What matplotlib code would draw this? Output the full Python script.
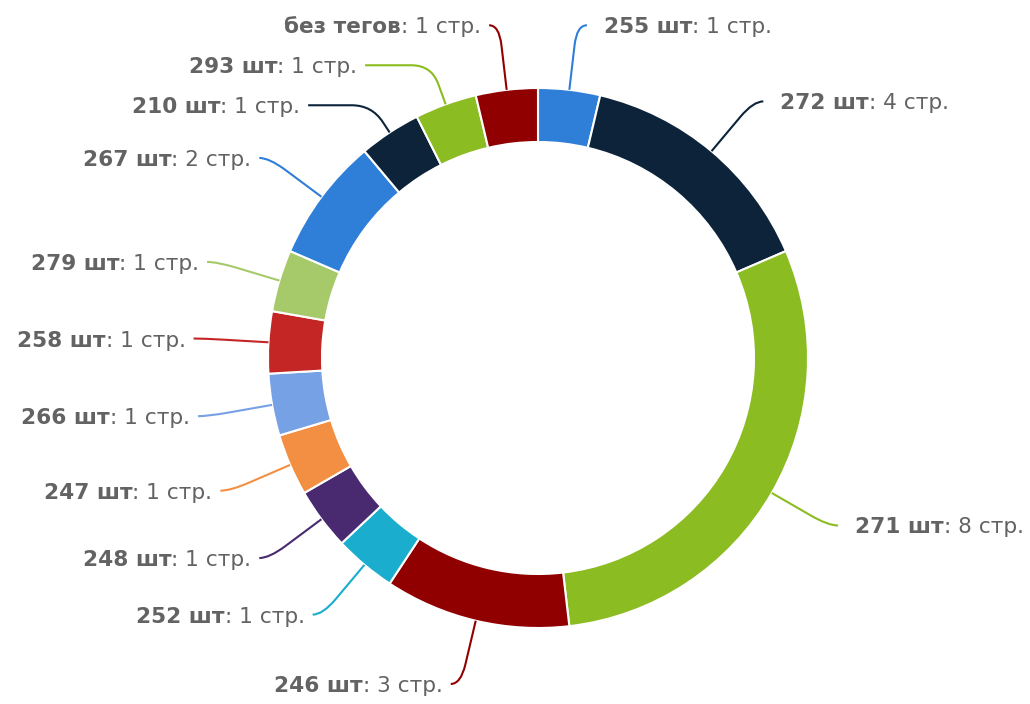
import numpy as np
import matplotlib
import matplotlib.pyplot as plt
from matplotlib.path import Path
from matplotlib.patches import PathPatch

matplotlib.use("Agg")

# values, clockwise from 12 o'clock
tegi = ["255 шт", "272 шт", "271 шт", "246 шт", "252 шт", "248 шт", "247 шт",
        "266 шт", "258 шт", "279 шт", "267 шт", "210 шт", "293 шт", "без тегов"]
stranic = [1, 4, 8, 3, 1, 1, 1, 1, 1, 1, 2, 1, 1, 1]
cveta = ["#2f7ed8", "#0d233a", "#8bbc21", "#910000", "#1aadce", "#492970",
         "#f28f43", "#77a1e5", "#c42525", "#a6c96a", "#2f7ed8", "#0d233a",
         "#8bbc21", "#910000"]

W, H = 1030, 704
CX, CY = 538, 346
R = 270
TOLSHINA = 54
R_METKI = 335
SHAG = 40
UGOLOK = 20
CVET_TEKSTA = "#636363"
RAZMER = 15.6

fig = plt.figure(figsize=(W / 100, H / 100), dpi=100)
ax = fig.add_axes([0, 0, 1, 1])
ax.pie(
    stranic,
    radius=R,
    center=(CX, CY),
    startangle=90,
    counterclock=False,
    colors=cveta,
    wedgeprops=dict(width=TOLSHINA, edgecolor="white", linewidth=1.5),
)
ax.set_xlim(0, W)
ax.set_ylim(0, H)
ax.set_aspect("equal")
ax.axis("off")

vals = np.array(stranic, dtype=float)
ugol = (np.cumsum(vals) - vals / 2) / vals.sum() * 2 * np.pi
sn, cs = np.sin(ugol), np.cos(ugol)
ly = CY + R_METKI * cs

# раздвигаем подписи, чтобы не налезали
for storona in (np.where(sn < 0)[0], np.where(sn >= 0)[0]):
    poryadok = sorted(storona, key=lambda i: -ly[i])
    for a, b in zip(poryadok, poryadok[1:]):
        if ly[b] > ly[a] - SHAG:
            ly[b] = ly[a] - SHAG


def k_tochke(ot, do, dlina):
    v = np.subtract(do, ot)
    d = np.hypot(*v)
    if d == 0:
        return np.array(ot, dtype=float)
    return np.array(ot) + v * min(1.0, dlina / d)


for i, (teg, n) in enumerate(zip(tegi, stranic)):
    znak = 1 if sn[i] >= 0 else -1
    dy = ly[i] - CY
    lx = CX + znak * (np.sqrt(max(R_METKI ** 2 - dy ** 2, 0)) + 10)
    p0 = np.array([CX + R * sn[i], CY + R * cs[i]])
    p3 = np.array([lx, ly[i]])
    # излом: луч от сектора до высоты подписи, дальше горизонтально
    t = (ly[i] - p0[1]) / cs[i] if abs(cs[i]) > 1e-3 else 0
    t = max(t, 0)
    ugl = np.array([p0[0] + t * sn[i], ly[i]])
    if znak * (ugl[0] - p3[0]) > 0:
        ugl[0] = p3[0]
    a = k_tochke(ugl, p0, UGOLOK)
    b = k_tochke(ugl, p3, UGOLOK)
    put = Path([p0, a, ugl, b, p3],
               [Path.MOVETO, Path.LINETO, Path.CURVE3, Path.CURVE3, Path.LINETO])
    ax.add_patch(PathPatch(put, facecolor="none", edgecolor=cveta[i], lw=1.5))

    ty = ly[i] - 2
    hvost = f": {n} стр."
    if znak > 0:
        t1 = ax.text(lx + 17, ty, teg, ha="left", va="center", fontsize=RAZMER,
                     fontweight="bold", color=CVET_TEKSTA)
        ax.annotate(hvost, xy=(1, 0.5), xycoords=t1, ha="left", va="center",
                    fontsize=RAZMER, color=CVET_TEKSTA)
    else:
        t1 = ax.text(lx - 8, ty, hvost, ha="right", va="center", fontsize=RAZMER,
                     color=CVET_TEKSTA)
        ax.annotate(teg, xy=(0, 0.5), xycoords=t1, ha="right", va="center",
                    fontsize=RAZMER, fontweight="bold", color=CVET_TEKSTA)

fig.savefig("out.png", dpi=100)
